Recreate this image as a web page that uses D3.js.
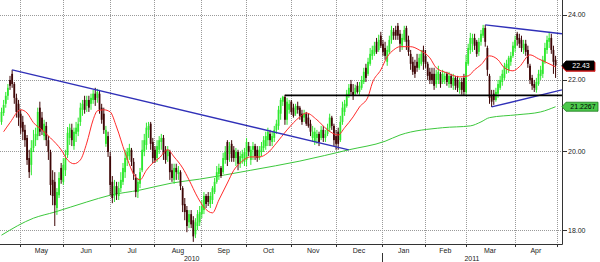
<!DOCTYPE html>
<html><head><meta charset="utf-8">
<script src="https://cdn.jsdelivr.net/npm/d3@7"></script>
<style>html,body{margin:0;padding:0;background:#fff}svg{display:block}</style>
</head><body>
<svg id="c" width="600" height="262"></svg>
<script>
// ---- DATA (daily bars, 20 Apr 2010 .. 29 Apr 2011, index = trading day) ----
const opens=[
20.80,21.05,21.31,21.54,22.00,22.18,21.88,21.48,21.31,21.03,
20.80,20.58,20.36,19.82,19.64,20.09,20.30,20.41,21.20,20.92,
20.41,20.69,20.30,19.98,19.25,19.20,18.54,18.86,19.56,19.20,
19.50,19.90,20.36,20.58,20.14,20.47,20.53,20.80,21.14,21.42,
21.25,21.42,21.31,21.42,21.60,21.48,21.60,21.20,21.03,20.20,
20.41,19.87,19.20,18.84,19.09,18.84,19.04,19.20,19.45,19.77,
19.87,20.04,19.72,19.30,18.94,19.15,19.50,19.98,20.17,20.58,
20.75,20.25,20.04,19.82,20.04,20.25,20.36,20.04,19.87,19.98,
19.50,19.25,19.56,19.40,19.45,19.04,18.64,18.49,18.19,18.39,
18.24,17.90,18.10,18.19,18.39,18.49,18.84,18.84,18.64,18.74,
18.94,19.20,19.40,19.56,19.45,19.77,20.25,19.93,20.20,20.04,
19.82,19.98,19.67,19.82,19.72,19.77,20.14,19.77,20.04,20.14,
20.04,19.82,19.98,20.09,20.14,20.30,20.47,20.25,20.36,20.58,
20.69,21.03,21.37,21.51,20.86,21.14,21.37,21.20,21.03,21.25,
21.20,21.03,20.92,21.03,20.92,20.75,20.36,20.25,20.36,20.47,
20.36,20.58,20.36,20.47,20.64,20.92,20.69,20.41,20.53,20.30,
20.80,21.08,21.25,21.54,21.88,21.65,21.60,21.83,21.65,21.77,
21.94,22.36,22.18,22.48,22.72,22.78,23.15,22.90,23.34,23.09,
22.96,22.54,22.84,23.21,23.46,23.52,23.65,23.40,23.03,23.21,
23.58,23.21,22.78,22.54,22.42,22.54,22.36,22.48,22.90,22.72,
22.48,22.24,22.18,22.18,21.88,22.00,22.18,21.94,22.00,22.18,
21.88,22.12,21.83,22.06,22.00,21.71,21.94,22.06,21.65,22.48,
22.90,23.09,23.27,23.15,22.84,23.15,23.34,23.58,22.96,22.12,
21.54,21.60,21.42,21.60,21.77,21.94,22.06,22.36,22.30,22.54,
22.72,22.96,23.40,23.27,23.21,22.90,23.09,22.90,22.42,22.06,
21.88,21.71,21.88,22.12,22.18,22.54,22.90,23.15,23.27,22.90,
22.60];
const highs=[
21.20,21.42,21.65,21.88,22.12,22.30,21.94,21.60,21.42,21.14,
20.97,20.72,20.44,20.04,20.30,20.58,20.64,21.20,21.37,21.08,
20.86,20.80,20.41,20.04,19.50,19.45,19.04,19.45,19.69,19.82,
20.04,20.66,20.75,20.75,20.64,20.80,20.92,21.34,21.42,21.54,
21.54,21.54,21.60,21.71,21.77,21.74,21.71,21.31,21.20,20.69,
20.53,19.98,19.35,19.25,19.20,19.20,19.45,19.69,20.04,20.09,
20.20,20.09,19.82,19.40,19.30,19.56,20.30,20.47,20.78,20.80,
20.80,20.36,20.14,20.30,20.41,20.47,20.44,20.14,20.14,20.04,
19.67,19.67,19.67,19.61,19.50,19.09,18.79,18.59,18.49,18.49,
18.34,18.29,18.49,18.59,18.74,18.94,18.89,18.94,18.94,19.09,
19.30,19.61,19.67,19.61,19.96,20.14,20.30,20.25,20.30,20.14,
20.09,20.04,19.98,20.04,20.09,20.36,20.25,20.14,20.25,20.20,
20.14,20.14,20.25,20.41,20.53,20.64,20.58,20.53,20.69,20.86,
21.25,21.48,21.54,21.57,21.48,21.42,21.42,21.31,21.31,21.37,
21.25,21.14,21.14,21.08,21.03,20.86,20.69,20.64,20.58,20.53,
20.69,20.69,20.58,20.75,21.03,20.97,20.75,20.58,20.64,20.97,
21.37,21.42,21.71,21.88,22.00,21.88,21.86,21.94,21.94,22.12,
22.36,22.48,22.66,22.96,23.03,23.15,23.27,23.37,23.46,23.21,
23.15,23.03,23.34,23.65,23.58,23.65,23.74,23.52,23.40,23.65,
23.65,23.34,22.90,22.69,22.60,22.78,22.78,22.90,23.03,22.90,
22.54,22.36,22.36,22.36,22.30,22.42,22.24,22.30,22.24,22.24,
22.24,22.18,22.18,22.12,22.12,22.06,22.06,22.18,22.75,23.09,
23.43,23.40,23.40,23.21,23.27,23.52,23.68,23.68,23.03,22.18,
21.71,21.71,21.77,22.00,22.12,22.30,22.51,22.60,22.72,22.84,
23.15,23.34,23.46,23.40,23.34,23.21,23.21,23.03,22.48,22.15,
22.00,22.06,22.30,22.42,22.72,23.12,23.34,23.46,23.40,23.03,
22.72];
const lows=[
20.72,20.97,21.20,21.42,21.71,21.77,21.31,20.92,20.69,20.47,
20.30,20.12,19.64,19.30,19.37,19.98,20.14,20.30,20.41,20.44,
20.30,20.14,19.77,18.86,18.61,18.10,18.37,18.79,19.15,19.12,
19.35,19.82,20.17,20.14,20.04,20.25,20.41,20.69,20.97,21.03,
21.08,21.08,21.14,21.31,21.25,21.34,21.03,20.75,20.47,20.12,
19.85,18.86,18.66,18.69,18.74,18.74,18.94,19.12,19.30,19.61,
19.77,19.61,19.25,18.81,18.79,19.04,19.45,19.87,20.04,20.36,
20.04,19.69,19.69,19.72,19.93,20.04,19.77,19.67,19.72,19.25,
19.20,19.15,19.25,19.25,18.99,18.44,18.24,17.95,18.05,18.05,
17.72,17.81,18.00,18.10,18.29,18.39,18.54,18.59,18.54,18.64,
18.89,19.15,19.25,19.30,19.40,19.67,19.61,19.72,19.72,19.72,
19.61,19.50,19.56,19.67,19.61,19.61,19.87,19.64,19.77,19.77,
19.72,19.77,19.87,19.98,20.04,20.14,20.14,20.14,20.25,20.47,
20.58,20.86,21.25,20.72,20.72,21.03,21.00,20.92,20.97,21.03,
20.86,20.72,20.80,20.69,20.64,20.41,20.25,20.17,20.20,20.14,
20.30,20.25,20.25,20.41,20.53,20.58,20.14,20.04,20.04,20.25,
20.72,20.97,21.20,21.48,21.57,21.42,21.54,21.60,21.57,21.71,
21.88,21.94,22.12,22.42,22.60,22.72,22.78,22.84,22.96,22.72,
22.60,22.42,22.78,23.09,23.21,23.21,23.21,22.84,22.90,23.15,
22.90,22.72,22.30,22.15,22.06,22.24,22.30,22.42,22.30,22.36,
22.00,21.88,21.88,21.71,21.77,21.88,21.77,21.88,21.88,21.83,
21.77,21.77,21.71,21.71,21.65,21.60,21.57,21.54,21.54,22.42,
22.78,22.84,22.90,22.69,22.72,23.03,23.27,23.00,22.12,21.31,
21.22,21.28,21.37,21.48,21.71,21.83,22.00,22.18,22.21,22.42,
22.66,22.84,23.03,22.96,22.84,22.78,22.72,22.36,21.88,21.71,
21.65,21.63,21.83,22.00,22.06,22.48,22.78,22.96,22.78,22.18,
22.06];
const closes=[
21.08,21.28,21.54,21.77,21.83,21.88,21.48,21.08,20.92,20.64,
20.53,20.30,19.77,19.45,20.09,20.30,20.47,21.08,20.53,20.58,
20.75,20.30,19.98,19.12,18.84,18.61,18.94,19.30,19.25,19.64,
19.82,20.50,20.64,20.30,20.53,20.64,20.75,21.20,21.31,21.14,
21.42,21.20,21.48,21.60,21.42,21.65,21.14,20.86,20.58,20.58,
19.98,19.12,18.79,19.09,18.89,19.04,19.25,19.56,19.82,19.98,
20.09,19.72,19.40,18.94,19.20,19.45,20.04,20.30,20.64,20.69,
20.20,19.82,19.77,20.14,20.30,20.36,19.93,19.77,20.04,19.45,
19.30,19.56,19.45,19.50,19.09,18.61,18.44,18.10,18.39,18.14,
17.85,18.19,18.39,18.44,18.59,18.84,18.64,18.69,18.84,19.04,
19.20,19.45,19.56,19.35,19.82,19.98,19.77,20.14,19.82,19.82,
19.98,19.67,19.87,19.93,19.98,20.25,19.98,20.04,20.14,19.87,
19.82,20.04,20.14,20.30,20.41,20.53,20.30,20.41,20.58,20.75,
21.14,21.42,21.51,20.86,21.37,21.31,21.08,20.97,21.25,21.14,
20.97,20.80,21.03,20.75,20.69,20.53,20.53,20.53,20.47,20.25,
20.58,20.36,20.47,20.64,20.92,20.69,20.30,20.20,20.20,20.80,
21.20,21.31,21.60,21.77,21.65,21.54,21.77,21.65,21.83,22.00,
22.24,22.06,22.54,22.78,22.90,23.03,22.84,23.21,23.03,22.84,
22.72,22.90,23.21,23.52,23.34,23.34,23.34,23.09,23.27,23.52,
23.15,22.84,22.48,22.24,22.18,22.36,22.66,22.78,22.54,22.48,
22.12,22.00,22.00,21.83,22.18,22.24,21.88,22.18,22.12,21.94,
22.12,21.88,22.06,21.83,21.77,21.94,21.71,21.65,22.54,22.96,
23.27,23.27,23.03,22.78,23.15,23.40,23.58,23.15,22.30,21.48,
21.37,21.42,21.65,21.88,22.00,22.18,22.42,22.48,22.66,22.72,
23.03,23.21,23.21,23.09,22.96,23.09,22.84,22.48,22.00,21.83,
21.77,21.94,22.18,22.30,22.60,22.96,23.21,23.27,22.90,22.54,
22.43];
// moving averages: [trading-day index, value]
const redMA=[[1,20.53],[4,20.78],[9,21.14],[12,21.05],[15,20.78],[19,20.58],[23,20.36],[28,20.04],[31,19.77],[34,19.67],[37,19.77],[40,20.22],[43,20.86],[45,21.11],[48,21.14],[51,21.08],[54,20.66],[58,19.96],[63,19.32],[65,19.25],[68,19.50],[71,19.69],[74,19.82],[78,20.04],[81,19.85],[85,19.56],[88,19.25],[92,18.81],[95,18.56],[99,18.42],[102,18.74],[106,19.17],[109,19.50],[112,19.69],[117,19.85],[121,19.85],[125,19.96],[129,20.22],[134,20.58],[140,20.94],[143,21.05],[148,20.86],[153,20.58],[158,20.44],[161,20.64],[165,20.94],[168,21.22],[172,21.51],[174,21.91],[178,22.30],[181,22.69],[184,22.90],[187,23.00],[192,23.00],[196,22.90],[201,22.66],[204,22.36],[209,22.21],[215,22.09],[219,22.12],[222,22.30],[225,22.45],[229,22.72],[233,22.60],[236,22.36],[240,22.27],[243,22.39],[248,22.75],[252,22.63],[256,22.51],[260,22.39]];
const greenMA=[[0,17.88],[15,18.29],[25,18.44],[40,18.69],[51,18.86],[65,18.99],[80,19.17],[93,19.27],[117,19.50],[140,19.74],[163,20.04],[180,20.27],[187,20.44],[207,20.64],[220,20.69],[225,20.80],[229,20.92],[242,21.00],[253,21.08],[260,21.2267]];
const monthStarts=[9,29,51,72,94,115,136,157,179,199,218,241,261];
const monthLabels=["May","Jun","Jul","Aug","Sep","Oct","Nov","Dec","Jan","Feb","Mar","Apr"];
const yearLabels=["2010","2011"];
const yearBounds=[0,179,263];
const yTicks=[18,20,22,24];
const blueLines=[[[5,22.30],[163,20.04]],[[227,23.68],[263,23.40]],[[230,21.22],[263,21.71]]];
const blackLines=[[[133,21.55],[263,21.55]]];
const lastPrice=22.43, lastMA=21.2267, lastMARed=22.39;

// ---- DRAW ----
const plotR=562, plotB=244;
const x=d3.scaleLinear().domain([0,261]).range([1.5,557.7]);
const y=d3.scaleLog().domain([17.67,24.48]).range([plotB,0]);
const svg=d3.select("#c");
svg.append("defs").append("clipPath").attr("id","pc").append("rect").attr("x",0).attr("y",0).attr("width",plotR).attr("height",plotB);
const font='"Liberation Sans", Arial, sans-serif';

// grid
const grid=svg.append("g").attr("stroke","#9a9a9a").attr("stroke-width",1).attr("stroke-dasharray","1,1");
grid.selectAll("line.h").data(yTicks).join("line").attr("class","h")
  .attr("x1",0).attr("x2",plotR).attr("y1",d=>Math.round(y(d))+0.5).attr("y2",d=>Math.round(y(d))+0.5);
grid.selectAll("line.v").data(monthStarts).join("line").attr("class","v")
  .attr("x1",d=>Math.round(x(d)-0.5)+0.5).attr("x2",d=>Math.round(x(d)-0.5)+0.5).attr("y1",0).attr("y2",plotB);

const plot=svg.append("g").attr("clip-path","url(#pc)");
// green long MA
const line=d3.line().x(d=>x(d[0])).y(d=>y(d[1])).curve(d3.curveMonotoneX);
plot.append("path").attr("d",line(greenMA)).attr("fill","none").attr("stroke","#3cc83c").attr("stroke-width",1);

// candles
const idx=d3.range(closes.length);
const up="#2ee82e", dn="#3e0606";
const cg=plot.append("g");
cg.selectAll("line").data(idx).join("line")
  .attr("x1",i=>x(i)).attr("x2",i=>x(i))
  .attr("y1",i=>y(highs[i])).attr("y2",i=>y(lows[i]))
  .attr("stroke",i=>closes[i]>=opens[i]?up:dn).attr("stroke-width",1);
cg.selectAll("rect").data(idx).join("rect")
  .attr("x",i=>x(i)-0.9).attr("width",1.8)
  .attr("y",i=>y(Math.max(opens[i],closes[i])))
  .attr("height",i=>Math.max(1,Math.abs(y(opens[i])-y(closes[i]))))
  .attr("fill",i=>closes[i]>=opens[i]?up:dn);

// red MA
plot.append("path").attr("d",line(redMA)).attr("fill","none").attr("stroke","#ff2a2a").attr("stroke-width",1);

// trend lines
const sline=d3.line().x(d=>x(d[0])).y(d=>y(d[1]));
plot.selectAll("path.bl").data(blueLines).join("path").attr("class","bl")
  .attr("d",sline).attr("fill","none").attr("stroke","#3030b8").attr("stroke-width",1.3);
plot.selectAll("path.kl").data(blackLines).join("path").attr("class","kl")
  .attr("d",sline).attr("fill","none").attr("stroke","#000").attr("stroke-width",1.6);

// axes
const ax=svg.append("g").attr("stroke","#333").attr("stroke-width",1);
ax.append("line").attr("x1",0).attr("x2",plotR+0.5).attr("y1",plotB+0.5).attr("y2",plotB+0.5);
ax.append("line").attr("x1",plotR+0.5).attr("x2",plotR+0.5).attr("y1",0).attr("y2",plotB+0.5);
ax.selectAll("line.yt").data(yTicks).join("line").attr("class","yt")
  .attr("x1",plotR).attr("x2",plotR+5).attr("y1",d=>Math.round(y(d))+0.5).attr("y2",d=>Math.round(y(d))+0.5);
ax.selectAll("line.xt").data(monthStarts).join("line").attr("class","xt")
  .attr("x1",d=>Math.round(x(d)-0.5)+0.5).attr("x2",d=>Math.round(x(d)-0.5)+0.5).attr("y1",plotB).attr("y2",plotB+3);
ax.append("line").attr("x1",Math.round(x(yearBounds[1])-0.5)+0.5).attr("x2",Math.round(x(yearBounds[1])-0.5)+0.5)
  .attr("y1",plotB+9).attr("y2",262);

const txt=svg.append("g").attr("font-family",font).attr("font-size",7).attr("fill","#222");
txt.selectAll("text.yl").data(yTicks).join("text").attr("class","yl")
  .attr("x",plotR+6).attr("y",d=>y(d)).attr("dy","0.35em").text(d=>d.toFixed(2));
txt.selectAll("text.ml").data(monthLabels).join("text").attr("class","ml")
  .attr("x",(d,k)=>(x(monthStarts[k])+x(monthStarts[k+1]))/2-0.5).attr("y",plotB+9)
  .attr("text-anchor","middle").text(d=>d);
txt.selectAll("text.yr").data(yearLabels).join("text").attr("class","yr")
  .attr("x",(d,k)=>(Math.max(0,x(yearBounds[k])-0.5)+Math.min(plotR,x(yearBounds[k+1])-0.5))/2).attr("y",plotB+17)
  .attr("text-anchor","middle").text(d=>d);

// value tags
function tag(v,fill,stroke,tcol,w){
  const yy=y(v), h=9;
  const g=svg.append("g");
  g.append("path").attr("d",`M${plotR},${yy} L${plotR+4},${yy-h/2} L${plotR+4+w},${yy-h/2} L${plotR+4+w},${yy+h/2} L${plotR+4},${yy+h/2} Z`)
    .attr("fill",fill).attr("stroke",stroke).attr("stroke-width",0.8);
  g.append("text").attr("x",plotR+5+w/2).attr("y",yy).attr("dy","0.35em").attr("text-anchor","middle")
    .attr("font-family",font).attr("font-size",7).attr("fill",tcol).text(v);
}
tag(lastMARed,"#e02020","#c00000","#fff",29);
tag(lastPrice,"#000","#000","#fff",28);
tag(lastMA,"#4cc84c","#1a7a1a","#000",32);
</script>
</body></html>
